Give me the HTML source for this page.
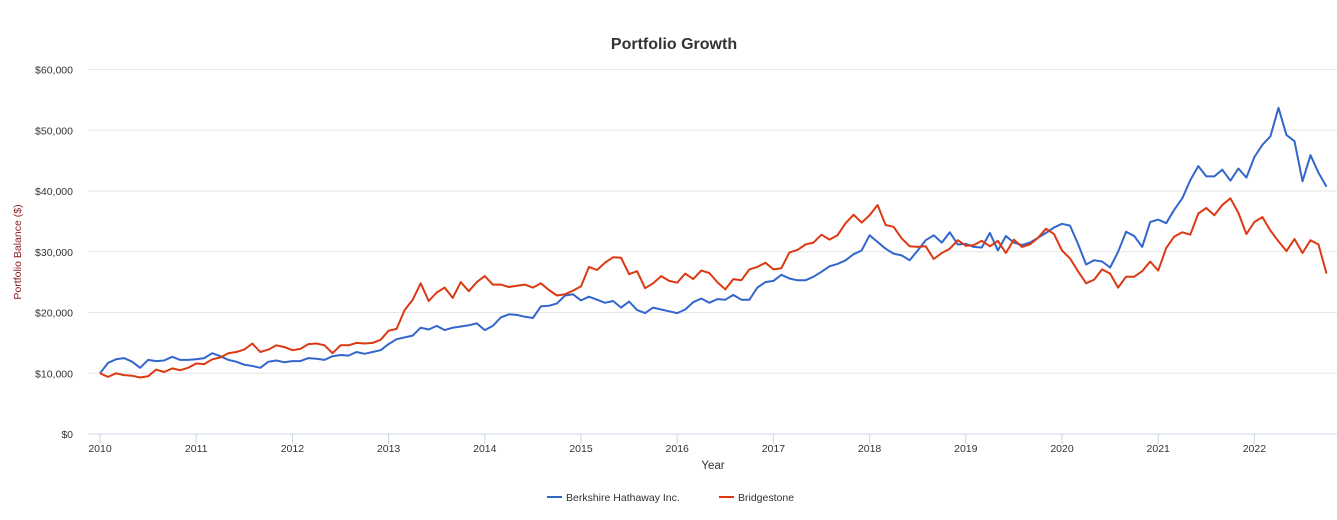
<!DOCTYPE html>
<html><head><meta charset="utf-8"><style>
body{margin:0;background:#fff;}
svg{display:block;font-family:"Liberation Sans",Arial,sans-serif;}
</style></head><body>
<svg id="chart" width="1337" height="520" viewBox="0 0 1337 520">
<text x="674" y="49" text-anchor="middle" font-size="16" font-weight="bold" fill="#333">Portfolio Growth</text>
<g id="grid"></g>
<g id="yticks"></g>
<g id="xticks"></g>
<text transform="translate(21,252) rotate(-90)" text-anchor="middle" font-size="10.5" fill="#8b1a1a">Portfolio Balance ($)</text>
<text x="713" y="469" text-anchor="middle" font-size="11.5" fill="#333">Year</text>
<g id="series"></g>
<g>
<g><line x1="547" y1="497" x2="562" y2="497" stroke="#3366cc" stroke-width="2"/><text x="566" y="501" font-size="10.5" fill="#333">Berkshire Hathaway Inc.</text></g>
<g><line x1="719" y1="497" x2="734" y2="497" stroke="#dc3912" stroke-width="2"/><text x="738" y="501" font-size="10.5" fill="#333">Bridgestone</text></g>
</g>
</svg>
<script>
const yTicks=[0,10000,20000,30000,40000,50000,60000];
const yTickLabels=["$0","$10,000","$20,000","$30,000","$40,000","$50,000","$60,000"];
const xYears=[2010,2011,2012,2013,2014,2015,2016,2017,2018,2019,2020,2021,2022];
const berkshire=[10.0,11.7,12.3,12.5,11.9,10.9,12.2,12.0,12.1,12.7,12.2,12.2,
12.3,12.5,13.3,12.8,12.2,11.9,11.4,11.2,10.9,11.9,12.1,11.8,
12.0,12.0,12.5,12.4,12.2,12.8,13.0,12.9,13.5,13.2,13.5,13.8,
14.8,15.6,15.9,16.2,17.5,17.2,17.8,17.1,17.5,17.7,17.9,18.2,
17.1,17.8,19.2,19.7,19.6,19.3,19.1,21.0,21.1,21.5,22.8,23.0,
22.0,22.6,22.1,21.6,21.9,20.8,21.8,20.4,19.9,20.8,20.5,20.2,
19.9,20.5,21.7,22.3,21.6,22.2,22.1,22.9,22.1,22.1,24.1,25.0,
25.2,26.2,25.6,25.3,25.3,25.9,26.7,27.6,28.0,28.6,29.6,30.2,
32.7,31.6,30.5,29.7,29.4,28.6,30.2,31.9,32.7,31.5,33.2,31.2,
31.3,30.8,30.7,33.1,30.2,32.6,31.5,31.1,31.5,32.3,33.1,34.0,
34.6,34.3,31.3,27.9,28.6,28.4,27.4,30.0,33.3,32.6,30.8,34.9,
35.3,34.7,36.9,38.8,41.8,44.1,42.4,42.4,43.5,41.7,43.7,42.2,
45.6,47.6,49.0,53.7,49.2,48.2,41.6,45.9,43.0,40.7];
const bridgestone=[10.0,9.4,10.0,9.7,9.6,9.3,9.5,10.6,10.2,10.8,10.5,10.9,
11.6,11.5,12.3,12.6,13.3,13.5,13.9,14.9,13.5,13.9,14.6,14.3,
13.8,14.0,14.8,14.9,14.6,13.3,14.6,14.6,15.0,14.9,15.0,15.5,
17.0,17.3,20.4,22.1,24.8,21.9,23.3,24.1,22.4,25.0,23.5,25.0,
26.0,24.6,24.6,24.2,24.4,24.6,24.1,24.8,23.7,22.8,23.0,23.6,
24.3,27.5,27.0,28.2,29.1,29.0,26.3,26.8,24.0,24.8,26.0,25.2,
24.9,26.4,25.5,26.9,26.5,25.0,23.8,25.5,25.3,27.1,27.5,28.2,
27.1,27.3,29.9,30.3,31.2,31.5,32.8,32.0,32.7,34.7,36.1,34.8,
36.0,37.7,34.4,34.1,32.2,30.9,30.8,30.9,28.8,29.8,30.5,31.9,
31.0,31.1,31.8,30.9,31.8,29.8,32.0,30.8,31.2,32.3,33.8,32.9,
30.2,28.9,26.8,24.8,25.4,27.1,26.4,24.1,25.9,25.9,26.8,28.4,
26.9,30.6,32.5,33.2,32.8,36.3,37.2,36.0,37.7,38.8,36.4,32.9,
34.9,35.7,33.5,31.7,30.1,32.1,29.8,31.9,31.2,26.4];

const NS="http://www.w3.org/2000/svg";
function y(v){return 434-v*(364.5/60000);}
function x(yearFrac){return 100+(yearFrac-2010)*96.2;}
const grid=document.getElementById('grid'),yt=document.getElementById('yticks'),xt=document.getElementById('xticks'),ser=document.getElementById('series');
yTicks.forEach((v,i)=>{
 const l=document.createElementNS(NS,'line');
 l.setAttribute('x1',88);l.setAttribute('x2',1337);l.setAttribute('y1',y(v));l.setAttribute('y2',y(v));
 l.setAttribute('stroke',v===0?'#ccd6eb':'#e6e6e6');l.setAttribute('stroke-width',1);
 
 
 grid.appendChild(l);
 const t=document.createElementNS(NS,'text');
 t.setAttribute('x',73);t.setAttribute('y',y(v)+4);t.setAttribute('text-anchor','end');t.setAttribute('font-size','10.5');t.setAttribute('fill','#333');
 t.textContent=yTickLabels[i];
 
 
 yt.appendChild(t);
});
xYears.forEach(yr=>{
 const tk=document.createElementNS(NS,'line');
 tk.setAttribute('x1',x(yr));tk.setAttribute('x2',x(yr));tk.setAttribute('y1',434);tk.setAttribute('y2',444);tk.setAttribute('stroke','#ccd6eb');
 
 
 xt.appendChild(tk);
 const t=document.createElementNS(NS,'text');
 t.setAttribute('x',x(yr));t.setAttribute('y',452);t.setAttribute('text-anchor','middle');t.setAttribute('font-size','10.5');t.setAttribute('fill','#333');
 t.textContent=yr;
 
 
 xt.appendChild(t);
});
function draw(data,color,name){
 const pts=data.map((v,i)=>x(2010+i/12).toFixed(1)+','+y(v*1000).toFixed(1)).join(' ');
 const p=document.createElementNS(NS,'polyline');
 p.setAttribute('points',pts);p.setAttribute('fill','none');p.setAttribute('stroke',color);p.setAttribute('stroke-width',2);p.setAttribute('stroke-linejoin','round');
 
 
 ser.appendChild(p);
}
draw(berkshire,'#3366cc','berkshire-line');
draw(bridgestone,'#dc3912','bridgestone-line');
</script>
</body></html>
